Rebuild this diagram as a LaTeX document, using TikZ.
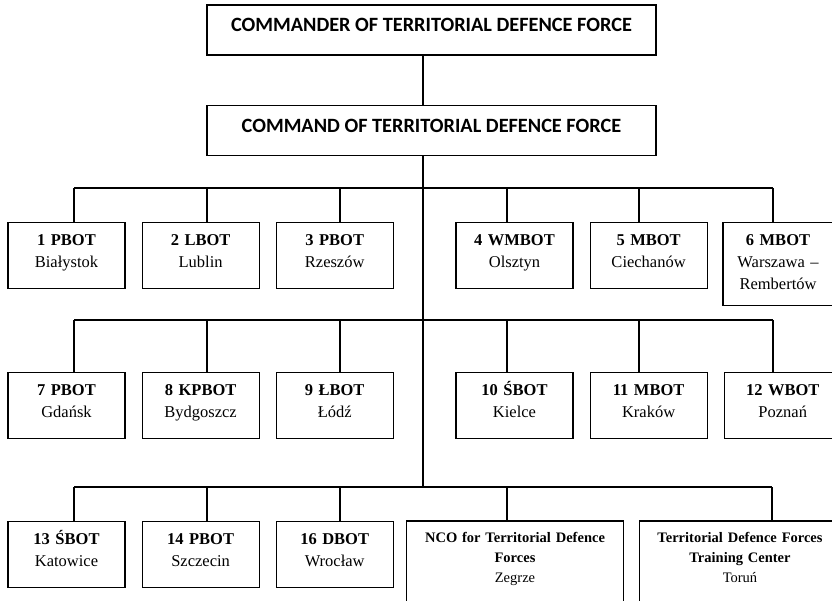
\documentclass[tikz,border=0pt]{standalone}
\usepackage{fontspec}
\setmainfont{Liberation Serif}
\newfontfamily\hqfont{Carlito}
\usetikzlibrary{positioning}
\newcommand\unitlabel[2]{\rule{0pt}{14pt}\textbf{#1}\\#2\rule[-12pt]{0pt}{12pt}}

\begin{document}
\begin{tikzpicture}
	[x=1pt, y=-1pt, line width=1.1pt,
	top/.style = {draw, minimum width=449pt, minimum height=50pt, inner sep=0pt, text height=14pt, text depth=10pt, font=\hqfont\bfseries\fontsize{20.3}{24}\selectfont},
	unit/.style = {draw, anchor=north, text width=113pt, inner xsep=2pt, inner ysep=0pt, minimum height=66pt, align=center, font=\fontsize{16.5}{22}\selectfont},
	school/.style = {anchor=north, inner xsep=2pt, inner ysep=7pt, align=center, font=\fontsize{14.5}{20}\selectfont}]
	\useasboundingbox (0,0) rectangle (832,601);
	\clip (0,0) rectangle (832,601);
	\node[top] (cmdr) at (431.5,30) {COMMANDER OF TERRITORIAL DEFENCE FORCE};
	\node[top] (hq) at (431.5,130.5) {COMMAND OF TERRITORIAL DEFENCE FORCE};
	\node[unit] (u1) at (66.5,222) {\unitlabel{1 PBOT}{Białystok}};
	\node[unit] (u2) [right = 16pt of u1.north east, anchor=north west] {\unitlabel{2 LBOT}{Lublin}};
	\node[unit] (u3) [right = 16pt of u2.north east, anchor=north west] {\unitlabel{3 PBOT}{Rzeszów}};
	\node[unit] (u4) at (514.5,222) {\unitlabel{4 WMBOT}{Olsztyn}};
	\node[unit] (u5) [right = 16pt of u4.north east, anchor=north west] {\unitlabel{5 MBOT}{Ciechanów}};
	\node[unit, text width=106pt, minimum height=83pt] (u6) at (778,222) {\rule{0pt}{14pt}\textbf{6 MBOT}\\Warszawa –\\Rembertów\rule[-7pt]{0pt}{7pt}};
	\node[unit] (u7) at (66.5,372) {\unitlabel{7 PBOT}{Gdańsk}};
	\node[unit] (u8) [right = 16pt of u7.north east, anchor=north west] {\unitlabel{8 KPBOT}{Bydgoszcz}};
	\node[unit] (u9) [right = 16pt of u8.north east, anchor=north west] {\unitlabel{9 ŁBOT}{Łódź}};
	\node[unit] (u10) at (514.5,372) {\unitlabel{10 ŚBOT}{Kielce}};
	\node[unit] (u11) [right = 16pt of u10.north east, anchor=north west] {\unitlabel{11 MBOT}{Kraków}};
	\node[unit] (u12) [right = 16pt of u11.north east, anchor=north west] {\unitlabel{12 WBOT}{Poznań}};
	\node[unit] (u13) at (66.5,521) {\unitlabel{13 ŚBOT}{Katowice}};
	\node[unit] (u14) [right = 16pt of u13.north east, anchor=north west] {\unitlabel{14 PBOT}{Szczecin}};
	\node[unit] (u16) [right = 16pt of u14.north east, anchor=north west] {\unitlabel{16 DBOT}{Wrocław}};
	\node[school, text width=212pt] (nco) at (515,521) {\rule{0pt}{14pt}\textbf{NCO for Territorial Defence}\\\textbf{Forces}\\Zegrze};
	\node[school, text width=196pt] (tc) at (740,521) {\rule{0pt}{14pt}\textbf{Territorial Defence Forces}\\\textbf{Training Center}\\Toruń};
	\draw (nco.north west) rectangle ([yshift=-40pt]nco.south east);
	\draw (tc.north west) rectangle ([yshift=-40pt]tc.south east);
	\coordinate (spine) at (423,0);
	\coordinate (bus1) at (74,188);
	\coordinate (bus2) at (74,320);
	\coordinate (bus3) at (74,487);
	\draw (cmdr.south -| spine) -- (hq.north -| spine);
	\draw (hq.south -| spine) -- (bus3 -| spine);
	\draw (bus1) -- ++(699,0);
	\draw (bus2) -- ++(699,0);
	\draw (bus3) -- ++(698,0);
	\foreach \n/\x in {1/74, 2/207, 3/340, 4/507, 5/639, 6/773}
		\draw (\x,188) -- (\x,222);
	\foreach \n/\x in {7/74, 8/207, 9/340, 10/507, 11/639, 12/773}
		\draw (\x,320) -- (\x,372);
	\foreach \n/\x in {13/74, 14/207, 16/340, nco/507, tc/772}
		\draw (\x,487) -- (\x,521);
\end{tikzpicture}
\end{document}
